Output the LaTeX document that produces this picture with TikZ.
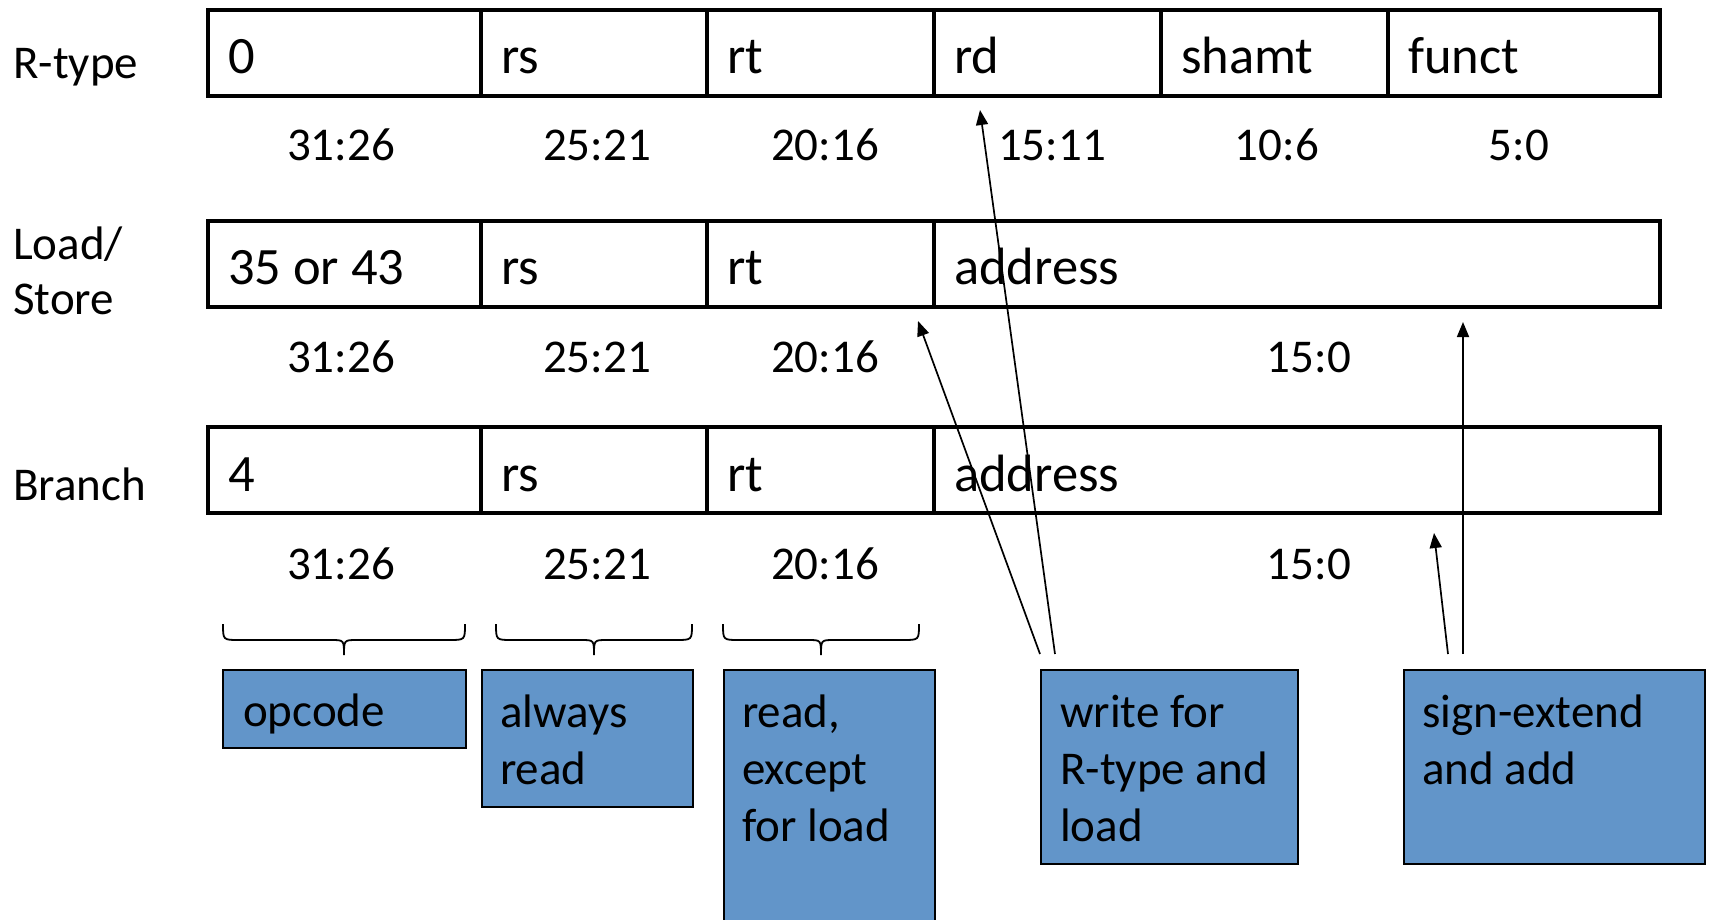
\documentclass[tikz,border=0pt]{standalone}
\usepackage{fontspec}
\setmainfont{Carlito}
\usetikzlibrary{arrows.meta}
\definecolor{boxblue}{RGB}{98,149,201}
\begin{document}
\begin{tikzpicture}[x=1pt,y=-1pt,
 field/.style={draw, line width=3.5pt, anchor=north west, inner sep=0pt, minimum height=86pt},
 ftext/.style={anchor=base west, inner sep=0pt, font=\fontsize{52.5}{63}\selectfont},
 bits/.style={anchor=base, inner sep=0pt, font=\fontsize{47}{57}\selectfont},
 rowlabel/.style={anchor=base west, inner sep=0pt, font=\fontsize{47}{55}\selectfont},
 note/.style={draw, line width=2pt, fill=boxblue, anchor=north west, inner sep=0pt},
 ntext/.style={anchor=base west, inner sep=0pt, font=\fontsize{47}{57}\selectfont},
 bracepath/.style={line width=1.8pt},
 ptr/.style={line width=1.7pt, -{Triangle[length=15pt,width=12pt]}}
]
\useasboundingbox (0,0) rectangle (1709,919);

% row labels
\node[rowlabel] (lr) at (13,78) {R-type};
\node[rowlabel] (ll) at (13,259) {\begin{tabular}[t]{@{}l@{}}Load/\\Store\end{tabular}};
\node[rowlabel] (lb) at (13,500) {Branch};

% R-type row
\node[field, minimum width=273pt] (r1a) at (206,8) {};
\node[field, minimum width=226pt] (r1b) at (479,8) {};
\node[field, minimum width=227pt] (r1c) at (705,8) {};
\node[field, minimum width=227pt] (r1d) at (932,8) {};
\node[field, minimum width=227pt] (r1e) at (1159,8) {};
\node[field, minimum width=272pt] (r1f) at (1386,8) {};
\node[ftext] (t1a) at (228,73) {0};
\node[ftext] (t1b) at (501,73) {rs};
\node[ftext] (t1c) at (727,73) {rt};
\node[ftext] (t1d) at (954,73) {rd};
\node[ftext] (t1e) at (1181,73) {shamt};
\node[ftext] (t1f) at (1408,73) {funct};
\node[bits] (b1a) at (341,160) {31:26};
\node[bits] (b1b) at (597,160) {25:21};
\node[bits] (b1c) at (825,160) {20:16};
\node[bits] (b1d) at (1052,160) {15:11};
\node[bits] (b1e) at (1277,160) {10:6};
\node[bits] (b1f) at (1519,160) {5:0};

% Load/Store row
\node[field, minimum width=273pt] (r2a) at (206,219) {};
\node[field, minimum width=226pt] (r2b) at (479,219) {};
\node[field, minimum width=227pt] (r2c) at (705,219) {};
\node[field, minimum width=726pt] (r2d) at (932,219) {};
\node[ftext] (t2a) at (228,284) {35 or 43};
\node[ftext] (t2b) at (501,284) {rs};
\node[ftext] (t2c) at (727,284) {rt};
\node[ftext] (t2d) at (954,284) {address};
\node[bits] (b2a) at (341,372) {31:26};
\node[bits] (b2b) at (597,372) {25:21};
\node[bits] (b2c) at (825,372) {20:16};
\node[bits] (b2d) at (1309,372) {15:0};

% Branch row
\node[field, minimum width=273pt] (r3a) at (206,425) {};
\node[field, minimum width=226pt] (r3b) at (479,425) {};
\node[field, minimum width=227pt] (r3c) at (705,425) {};
\node[field, minimum width=726pt] (r3d) at (932,425) {};
\node[ftext] (t3a) at (228,491) {4};
\node[ftext] (t3b) at (501,491) {rs};
\node[ftext] (t3c) at (727,491) {rt};
\node[ftext] (t3d) at (954,491) {address};
\node[bits] (b3a) at (341,579) {31:26};
\node[bits] (b3b) at (597,579) {25:21};
\node[bits] (b3c) at (825,579) {20:16};
\node[bits] (b3d) at (1309,579) {15:0};

% braces
\draw[bracepath] (223,624) .. controls (223,640) .. (239,640) -- (331,640) .. controls (344,640) .. (344,655) .. controls (344,640) .. (357,640) -- (449,640) .. controls (465,640) .. (465,624);
\draw[bracepath] (496,624) .. controls (496,640) .. (512,640) -- (581,640) .. controls (594,640) .. (594,655) .. controls (594,640) .. (607,640) -- (676,640) .. controls (692,640) .. (692,624);
\draw[bracepath] (723,624) .. controls (723,640) .. (739,640) -- (808,640) .. controls (821,640) .. (821,655) .. controls (821,640) .. (834,640) -- (903,640) .. controls (919,640) .. (919,624);

% note boxes
\node[note, minimum width=243pt, minimum height=78pt] (n1) at (222,669) {};
\node[note, minimum width=211pt, minimum height=137pt] (n2) at (481,669) {};
\node[note, minimum width=211pt, minimum height=280pt] (n3) at (723,669) {};
\node[note, minimum width=257pt, minimum height=194pt] (n4) at (1040,669) {};
\node[note, minimum width=301pt, minimum height=194pt] (n5) at (1403,669) {};
\node[ntext] (m1) at (243,726) {opcode};
\node[ntext] (m2) at (500,727) {\begin{tabular}[t]{@{}l@{}}always\\read\end{tabular}};
\node[ntext] (m3) at (742,727) {\begin{tabular}[t]{@{}l@{}}read,\\except\\for load\end{tabular}};
\node[ntext] (m4) at (1060,727) {\begin{tabular}[t]{@{}l@{}}write for\\R-type and\\load\end{tabular}};
\node[ntext] (m5) at (1422,727) {\begin{tabular}[t]{@{}l@{}}sign-extend\\and add\end{tabular}};

% arrows
\coordinate (s1) at (1055,654);
\coordinate (e1) at (980,110);
\coordinate (s2) at (1040,654);
\coordinate (e2) at (918,321);
\coordinate (s3) at (1463,654);
\coordinate (e3) at (1463,322);
\coordinate (s4) at (1448,654);
\coordinate (e4) at (1434,533);
\draw[ptr] (s1) -- (e1);
\draw[ptr] (s2) -- (e2);
\draw[ptr] (s3) -- (e3);
\draw[ptr] (s4) -- (e4);
\end{tikzpicture}
\end{document}
